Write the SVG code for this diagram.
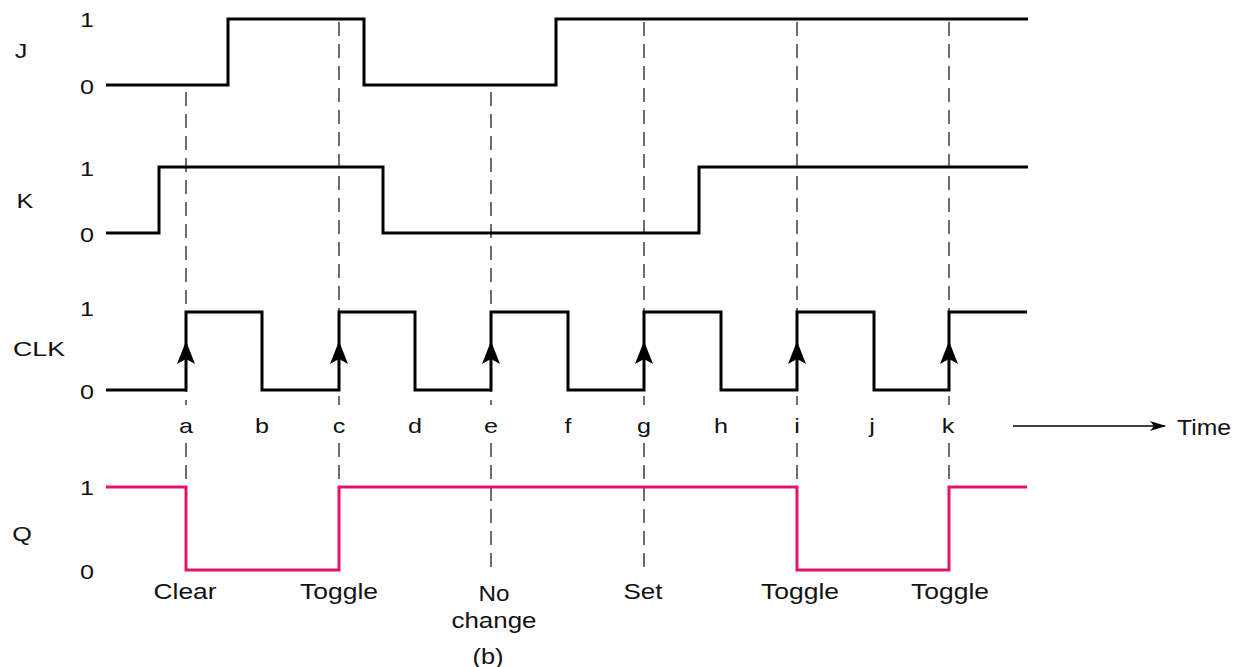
<svg xmlns="http://www.w3.org/2000/svg" xmlns:xlink="http://www.w3.org/1999/xlink" width="1235" height="667" viewBox="0 0 1235 667">
<style>
  .sig { fill: none; stroke: #000; stroke-width: 3; stroke-linejoin: miter; stroke-linecap: butt; }
  .q { fill: none; stroke: #E3136C; stroke-width: 3; stroke-linejoin: miter; }
  .dash { fill: none; stroke: #4a4a4a; stroke-width: 1.6; stroke-dasharray: 14 8; }
  .lbl { font-family: "Liberation Sans", Arial, sans-serif; font-size: 21px; fill: #111; }
  .big { font-family: "Liberation Sans", Arial, sans-serif; font-size: 22px; fill: #111; }
  .mid { text-anchor: middle; }
</style>
<defs>
  <path id="clkArrow" d="M0,341 L9,364 L0,359 L-9,364 Z" fill="#000"/>
  <marker id="timeHead" markerWidth="16" markerHeight="10" refX="15" refY="5" orient="auto" markerUnits="userSpaceOnUse">
    <path d="M0,0 L16,5 L0,10 L4,5 Z" fill="#000"/>
  </marker>
</defs>
<rect width="1235" height="667" fill="#fff"/>

<g id="connectors">
  <path class="dash" d="M186,92 V405 M186,443 V487"/>
  <path class="dash" d="M339,22 V405 M339,443 V487"/>
  <path class="dash" d="M491,92 V405 M491,443 V570"/>
  <path class="dash" d="M644,22 V405 M644,443 V570"/>
  <path class="dash" d="M797,22 V405 M797,443 V487"/>
  <path class="dash" d="M949,22 V405 M949,443 V487"/>
  <line x1="1013" y1="426" x2="1165" y2="426" stroke="#000" stroke-width="1.6" marker-end="url(#timeHead)"/>
</g>

<g id="signal-J">
  <text class="lbl mid" x="21" y="58" textLength="12.6" lengthAdjust="spacingAndGlyphs">J</text>
  <text class="lbl mid" x="87" y="27" textLength="14" lengthAdjust="spacingAndGlyphs">1</text>
  <text class="lbl mid" x="87" y="94" textLength="14" lengthAdjust="spacingAndGlyphs">0</text>
  <path class="sig" d="M106,85 H228 V19 H364 V85 H556 V19 H1028"/>
</g>

<g id="signal-K">
  <text class="lbl mid" x="25" y="208" textLength="16.8" lengthAdjust="spacingAndGlyphs">K</text>
  <text class="lbl mid" x="87" y="176" textLength="14" lengthAdjust="spacingAndGlyphs">1</text>
  <text class="lbl mid" x="87" y="242" textLength="14" lengthAdjust="spacingAndGlyphs">0</text>
  <path class="sig" d="M106,233 H159 V167 H383 V233 H699 V167 H1028"/>
</g>

<g id="signal-CLK">
  <text class="lbl mid" x="39" y="356" textLength="52" lengthAdjust="spacingAndGlyphs">CLK</text>
  <text class="lbl mid" x="87" y="316" textLength="14" lengthAdjust="spacingAndGlyphs">1</text>
  <text class="lbl mid" x="87" y="399" textLength="14" lengthAdjust="spacingAndGlyphs">0</text>
  <path class="sig" d="M106,390 H186 V312 H262 V390 H339 V312 H415 V390 H491 V312 H568 V390 H644 V312 H721 V390 H797 V312 H874 V390 H949 V312 H1027"/>
  <use href="#clkArrow" xlink:href="#clkArrow" x="186"/>
  <use href="#clkArrow" xlink:href="#clkArrow" x="339"/>
  <use href="#clkArrow" xlink:href="#clkArrow" x="491"/>
  <use href="#clkArrow" xlink:href="#clkArrow" x="644"/>
  <use href="#clkArrow" xlink:href="#clkArrow" x="797"/>
  <use href="#clkArrow" xlink:href="#clkArrow" x="949"/>
</g>

<g id="time-labels">
  <text class="lbl mid" x="186" y="433" textLength="14" lengthAdjust="spacingAndGlyphs">a</text>
  <text class="lbl mid" x="262" y="433" textLength="14" lengthAdjust="spacingAndGlyphs">b</text>
  <text class="lbl mid" x="339" y="433" textLength="12.6" lengthAdjust="spacingAndGlyphs">c</text>
  <text class="lbl mid" x="415" y="433" textLength="14" lengthAdjust="spacingAndGlyphs">d</text>
  <text class="lbl mid" x="491" y="433" textLength="14" lengthAdjust="spacingAndGlyphs">e</text>
  <text class="lbl mid" x="568" y="433" textLength="7" lengthAdjust="spacingAndGlyphs">f</text>
  <text class="lbl mid" x="644" y="433" textLength="14" lengthAdjust="spacingAndGlyphs">g</text>
  <text class="lbl mid" x="721" y="433" textLength="14" lengthAdjust="spacingAndGlyphs">h</text>
  <text class="lbl mid" x="797" y="433" textLength="5.6" lengthAdjust="spacingAndGlyphs">i</text>
  <text class="lbl mid" x="872" y="433" textLength="5.6" lengthAdjust="spacingAndGlyphs">j</text>
  <text class="lbl mid" x="948" y="433" textLength="12.6" lengthAdjust="spacingAndGlyphs">k</text>
  <text class="big" x="1177" y="435" textLength="54" lengthAdjust="spacingAndGlyphs">Time</text>
</g>

<g id="signal-Q">
  <text class="lbl mid" x="22" y="541" textLength="19.6" lengthAdjust="spacingAndGlyphs">Q</text>
  <text class="lbl mid" x="87" y="495" textLength="14" lengthAdjust="spacingAndGlyphs">1</text>
  <text class="lbl mid" x="87" y="579" textLength="14" lengthAdjust="spacingAndGlyphs">0</text>
  <path class="q" d="M106,487 H186 V570 H339 V487 H797 V570 H949 V487 H1027"/>
</g>

<g id="events">
  <text class="big mid" x="185" y="599" textLength="63" lengthAdjust="spacingAndGlyphs">Clear</text>
  <text class="big mid" x="339" y="599" textLength="78" lengthAdjust="spacingAndGlyphs">Toggle</text>
  <text class="big mid" x="494" y="601" textLength="31" lengthAdjust="spacingAndGlyphs">No</text>
  <text class="big mid" x="494" y="628" textLength="85" lengthAdjust="spacingAndGlyphs">change</text>
  <text class="big mid" x="643" y="599" textLength="39" lengthAdjust="spacingAndGlyphs">Set</text>
  <text class="big mid" x="800" y="599" textLength="78" lengthAdjust="spacingAndGlyphs">Toggle</text>
  <text class="big mid" x="950" y="599" textLength="78" lengthAdjust="spacingAndGlyphs">Toggle</text>
</g>

<g id="caption">
  <text class="big mid" x="488" y="664" textLength="31" lengthAdjust="spacingAndGlyphs">(b)</text>
</g>
</svg>
